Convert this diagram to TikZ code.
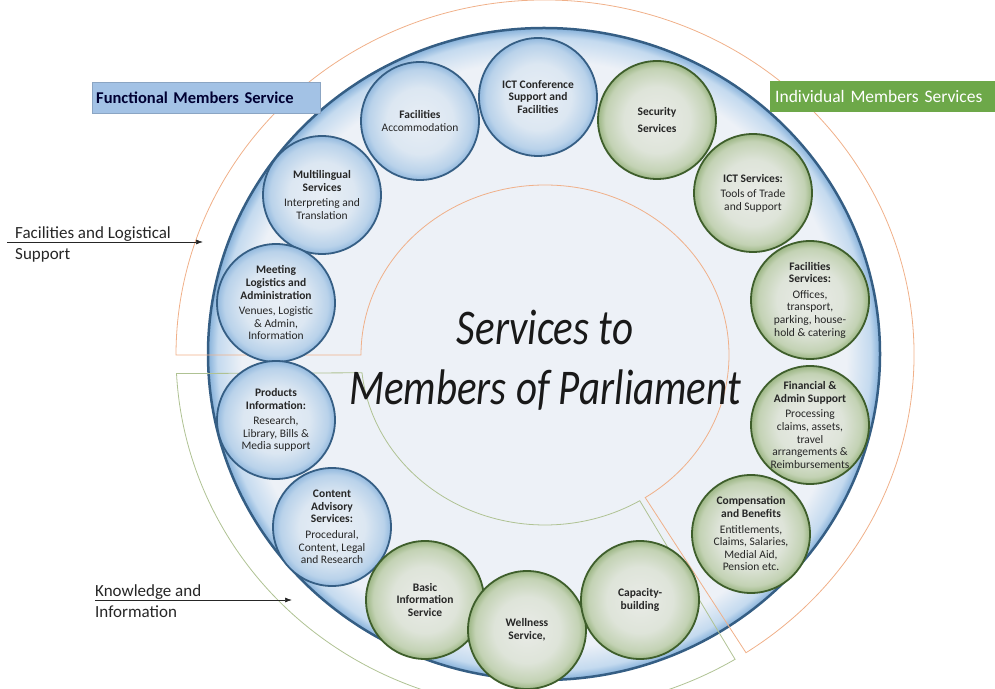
\documentclass[tikz,border=0pt]{standalone}
\usepackage{fontspec}
\setmainfont{Carlito}
\newfontfamily\titlefont{Carlito}[FakeStretch=0.82]
\usetikzlibrary{calc}
\usetikzlibrary{arrows.meta}

\definecolor{rimblue}{HTML}{355E84}
\definecolor{rimgreen}{HTML}{3E5E2B}
\definecolor{logisorange}{HTML}{F0B089}
\definecolor{knowgreen}{HTML}{AFC293}
\definecolor{funcblue}{HTML}{A3C2E5}
\definecolor{indivgreen}{HTML}{6DA849}
\definecolor{inkgray}{HTML}{262626}
\definecolor{discin}{HTML}{EDF1F7}
\definecolor{discmid}{HTML}{C4DAEF}
\definecolor{discedge}{HTML}{86B1DA}
\definecolor{bb0}{HTML}{E8EEF5}
\definecolor{bb1}{HTML}{DCE7F2}
\definecolor{bb2}{HTML}{B9D2EA}
\definecolor{bb3}{HTML}{93B9DE}
\definecolor{bg0}{HTML}{E9EBE7}
\definecolor{bg1}{HTML}{DEE4D9}
\definecolor{bg2}{HTML}{C3D2B4}
\definecolor{bg3}{HTML}{9CB684}

\pgfdeclareradialshading{discshade}{\pgfpoint{0bp}{0bp}}{color(0bp)=(discin); color(22.5bp)=(discin); color(24.3bp)=(discmid); color(25bp)=(discedge); color(50bp)=(discedge)}
\pgfdeclareradialshading{shadeblue}{\pgfpoint{0bp}{0bp}}{color(0bp)=(bb0); color(14bp)=(bb1); color(22bp)=(bb2); color(25bp)=(bb3); color(50bp)=(bb3)}
\pgfdeclareradialshading{shadegreen}{\pgfpoint{0bp}{0bp}}{color(0bp)=(bg0); color(14bp)=(bg1); color(22bp)=(bg2); color(25bp)=(bg3); color(50bp)=(bg3)}

\tikzset{
  bubble/.style={circle, minimum size=118pt, inner sep=0pt, align=center, line width=1.8pt,
    text=inkgray, font=\fontsize{11.5}{12.6}\selectfont},
  bluebubble/.style={bubble, draw=rimblue, shading=shadeblue},
  greenbubble/.style={bubble, draw=rimgreen, shading=shadegreen},
  sidelabel/.style={inner sep=0pt, align=left, text=inkgray, font=\fontsize{17}{21}\selectfont},
  pointer/.style={line width=0.7pt, black!85, -{Latex[length=7pt,width=5pt]}},
}

\begin{document}
\begin{tikzpicture}[x=1pt, y=1pt]
    \clip (0,0) rectangle (995,688);
    \coordinate (C) at (545,333);

    % big disc
    \shade[shading=discshade] (544,334) ellipse [x radius=336, y radius=326];
    \draw[rimblue, line width=2.5pt] (544,334) ellipse [x radius=336, y radius=326];

    % facilities and logistical support band
    \draw[logisorange, line width=0.8pt] ($(C)+(180:369 and 355)$) -- ($(C)+(180:184 and 170)$)
        arc[start angle=180, end angle=-57, x radius=184, y radius=170]
        -- ($(C)+(-57:369 and 355)$)
        arc[start angle=-57, end angle=180, x radius=369, y radius=355] -- cycle;
    % knowledge and information band
    \draw[knowgreen, line width=0.8pt] ($(C)+(183:369 and 355)$) -- ($(C)+(186:184 and 170)$)
        arc[start angle=186, end angle=301, x radius=184, y radius=170]
        -- ($(C)+(301:369 and 355)$)
        arc[start angle=301, end angle=183, x radius=369, y radius=355] -- cycle;

    % functional services
    \node[bluebubble] (facacc) at (420,567) {\textbf{Facilities}\\[1pt]Accommodation};
    \node[bluebubble] (ictconf) at (538,591) {\textbf{ICT Conference}\\\textbf{Support and}\\\textbf{Facilities}};
    \node[bluebubble] (multiling) at (322,493) {\textbf{Multilingual}\\\textbf{Services}\\[3pt]Interpreting and\\Translation};
    \node[bluebubble] (meeting) at (276,385) {\textbf{Meeting}\\\textbf{Logistics and}\\\textbf{Administration}\\[3pt]Venues, Logistic\\\& Admin,\\Information};
    \node[bluebubble] (products) at (276,268) {\textbf{Products}\\\textbf{Information:}\\[3pt]Research,\\Library, Bills \&\\Media support};
    \node[bluebubble] (content) at (332,161) {\textbf{Content}\\\textbf{Advisory}\\\textbf{Services:}\\[3pt]Procedural,\\Content, Legal\\and Research};

    % individual services
    \node[greenbubble] (security) at (657,568) {\textbf{Security}\\[4pt]\textbf{Services}};
    \node[greenbubble] (ictserv) at (753,495) {\textbf{ICT Services:}\\[3pt]Tools of Trade\\and Support};
    \node[greenbubble] (facserv) at (810,388) {\textbf{Facilities}\\\textbf{Services:}\\[3pt]Offices,\\transport,\\parking, house-\\hold \& catering};
    \node[greenbubble] (finadmin) at (810,263) {\textbf{Financial \&}\\\textbf{Admin Support}\\[3pt]Processing\\claims, assets,\\travel\\arrangements \&\\Reimbursements};
    \node[greenbubble] (compben) at (751,154) {\textbf{Compensation}\\\textbf{and Benefits}\\[3pt]Entitlements,\\Claims, Salaries,\\Medial Aid,\\Pension etc.};
    \node[greenbubble] (basicinfo) at (425,88) {\textbf{Basic}\\\textbf{Information}\\\textbf{Service}};
    \node[greenbubble] (wellness) at (527,58) {\textbf{Wellness}\\\textbf{Service,}};
    \node[greenbubble] (capacity) at (640,88) {\textbf{Capacity-}\\\textbf{building}};

    % title
    \node[anchor=base, inner sep=0pt, text=black!90, font=\titlefont\itshape\fontsize{50}{56}\selectfont] (ttlA) at (545,343) {Services to};
    \node[anchor=base, inner sep=0pt, text=black!90, font=\titlefont\itshape\fontsize{50}{56}\selectfont] (ttlB) at (545,283) {Members of Parliament};

    % tags
    \node[anchor=south west, fill=funcblue, draw=funcblue!85!black, line width=0.4pt, minimum height=31pt,
        text width=220pt, inner xsep=4pt, inner ysep=0pt, align=left, text=black!80!blue,
        font=\bfseries\fontsize{16.5}{18}\selectfont] (functag) at (92,575) {Functional Members Service};
    \node[anchor=south west, fill=indivgreen, minimum height=31pt,
        text width=215pt, inner xsep=5pt, inner ysep=0pt, align=left, text=white,
        font=\fontsize{17.5}{19}\selectfont] (indivtag) at (770,576) {Individual Members Services};

    % side labels
    \node[sidelabel, anchor=base west] (logis) at (15,428) {Facilities and Logistical\\Support};
    \coordinate (logisA) at (7,446);
    \coordinate (logisB) at (203,446);
    \draw[pointer] (logisA) -- (logisB);

    \node[sidelabel, anchor=base west] (know) at (95,71) {Knowledge and\\Information};
    \coordinate (knowA) at (95,88);
    \coordinate (knowB) at (292,88);
    \draw[pointer] (knowA) -- (knowB);
\end{tikzpicture}
\end{document}
